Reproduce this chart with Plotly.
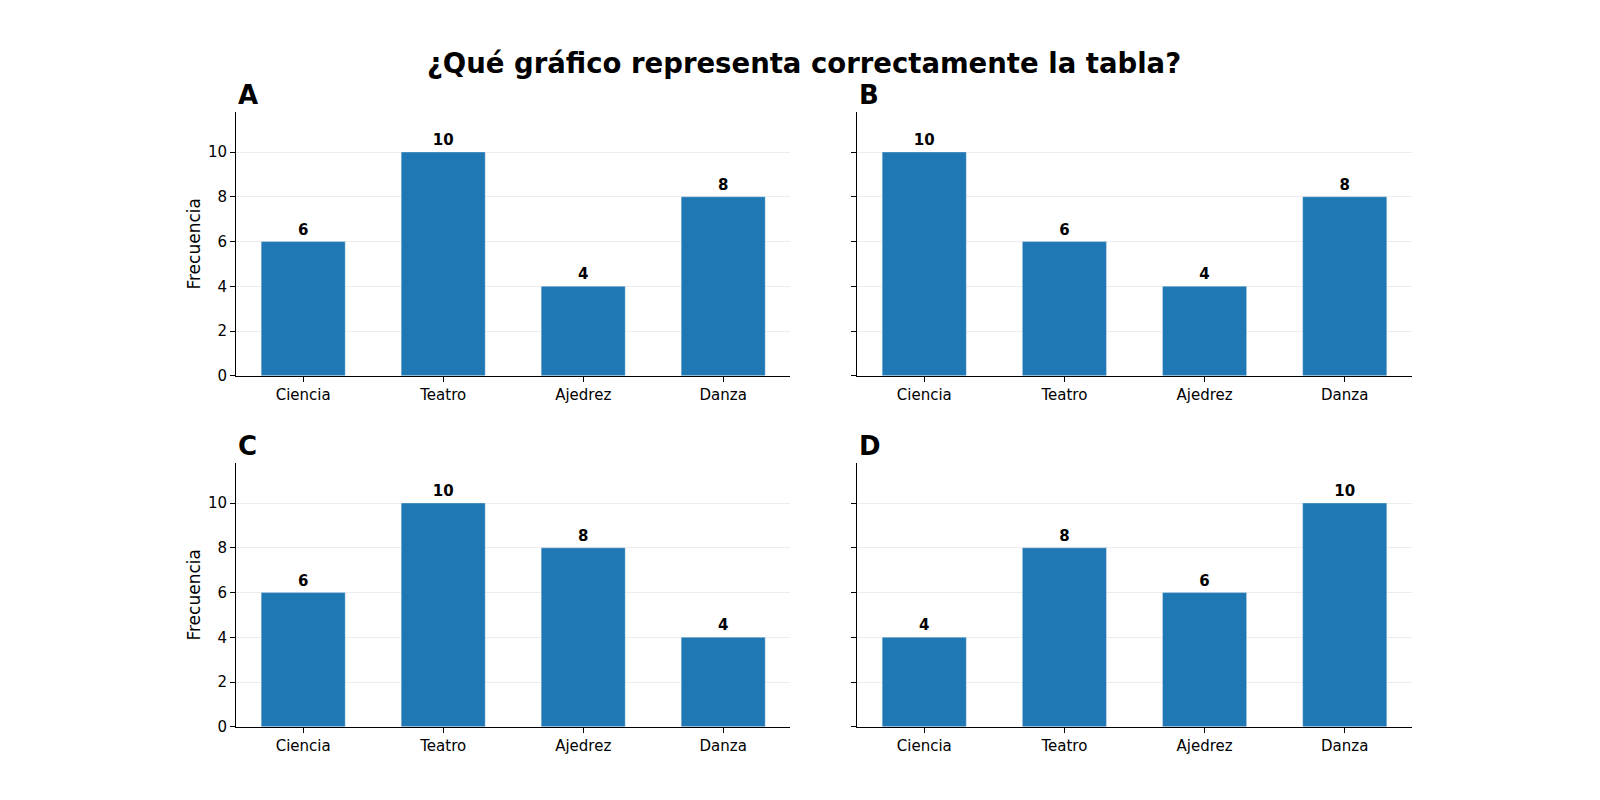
import plotly.graph_objects as go

categories = ["Ciencia", "Teatro", "Ajedrez", "Danza"]
panel_names = ["A", "B", "C", "D"]
values_a = [6, 10, 4, 8]
values_b = [10, 6, 4, 8]
values_c = [6, 10, 8, 4]
values_d = [4, 8, 6, 10]
y_ticks = [0, 2, 4, 6, 8, 10]

panels = [values_a, values_b, values_c, values_d]

BAR = "#1f77b4"
FONT = "DejaVu Sans, Arial, sans-serif"

# axes boxes in paper coords (matplotlib-like 2x2 grid)
x_doms = [[0.1425, 0.489], [0.5306, 0.8775]]
y_doms = [[0.535, 0.86875], [0.09125, 0.425]]

fig = go.Figure()
layout = {}
for i, (name, vals) in enumerate(zip(panel_names, panels)):
    row, col = divmod(i, 2)
    n = i + 1
    xa = "x" if n == 1 else f"x{n}"
    ya = "y" if n == 1 else f"y{n}"
    fig.add_trace(
        go.Bar(
            x=categories,
            y=vals,
            width=0.6,
            marker={"color": BAR, "line": {"color": "rgba(255,255,255,0.3)", "width": 1}},
            text=[str(v) for v in vals],
            textposition="outside",
            textfont={"family": FONT, "size": 15, "color": "black", "weight": "bold"},
            cliponaxis=False,
            xaxis=xa,
            yaxis=ya,
            showlegend=False,
        )
    )
    layout[f"xaxis{'' if n == 1 else n}"] = {
        "domain": x_doms[col],
        "anchor": ya,
        "type": "category",
        "range": [-0.48, 3.48],
        "showline": True,
        "linecolor": "black",
        "linewidth": 1,
        "ticks": "outside",
        "ticklen": 5,
        "tickcolor": "black",
        "showgrid": False,
        "tickfont": {"family": FONT, "size": 15, "color": "black"},
    }
    layout[f"yaxis{'' if n == 1 else n}"] = {
        "domain": y_doms[row],
        "anchor": xa,
        "range": [0, 11.8],
        "tickvals": y_ticks,
        "showticklabels": col == 0,
        "showline": True,
        "linecolor": "black",
        "linewidth": 1,
        "ticks": "outside",
        "ticklen": 5,
        "tickcolor": "black",
        "showgrid": True,
        "gridcolor": "#ececec",
        "gridwidth": 1,
        "zeroline": False,
        "tickfont": {"family": FONT, "size": 15, "color": "black"},
        "title": {"text": "Frecuencia" if col == 0 else "", "font": {"family": FONT, "size": 17, "color": "black"}, "standoff": 2},
    }
    fig.add_annotation(
        text=f"<b>{name}</b>",
        xref=f"{xa} domain", yref=f"{ya} domain",
        x=0, y=1.0, xanchor="left", yanchor="bottom",
        showarrow=False,
        font={"family": FONT, "size": 26, "color": "black"},
    )

fig.update_layout(
    **layout,
    width=1600,
    height=800,
    margin={"l": 0, "r": 0, "t": 0, "b": 0},
    paper_bgcolor="white",
    plot_bgcolor="white",
    title={
        "text": "<b>¿Qué gráfico representa correctamente la tabla?</b>",
        "x": 0.4975, "xanchor": "center",
        "y": 0.931, "yanchor": "middle",
        "font": {"family": FONT, "size": 27.5, "color": "black"},
    },
)

fig.write_html("out.html")
